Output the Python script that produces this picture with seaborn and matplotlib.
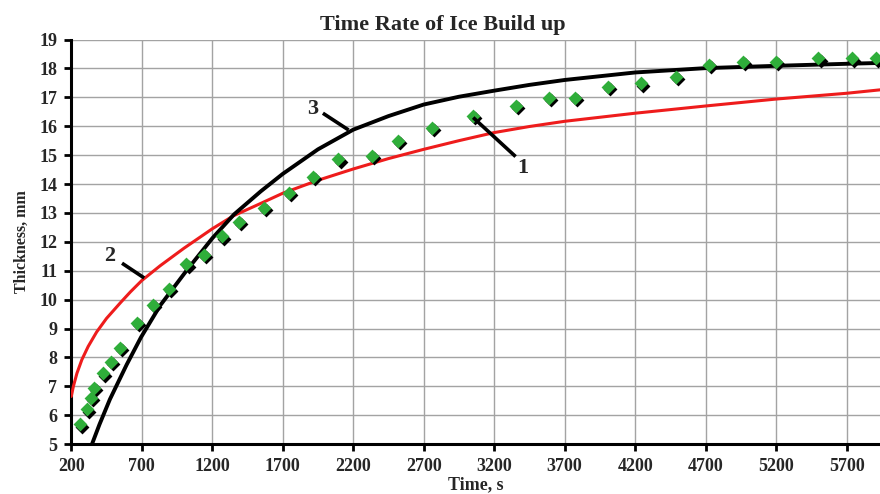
import numpy as np
import pandas as pd
import matplotlib
matplotlib.use("Agg")
import matplotlib.pyplot as plt
import matplotlib.transforms as mtransforms
import seaborn as sns

# experimental points (1)
time_exp = [259, 311, 340, 358, 422, 481, 543, 666, 779, 890, 1016, 1143, 1266, 1387,
            1564, 1741, 1915, 2095, 2335, 2515, 2760, 3050, 3355, 3590, 3775, 4005,
            4240, 4490, 4725, 4965, 5200, 5500, 5740, 5910]
thick_exp = [5.68, 6.2, 6.59, 6.95, 7.45, 7.85, 8.34, 9.19, 9.83, 10.37, 11.22, 11.55,
             12.19, 12.68, 13.17, 13.7, 14.25, 14.85, 14.97, 15.48, 15.95, 16.35, 16.7,
             16.98, 16.98, 17.35, 17.48, 17.72, 18.12, 18.23, 18.23, 18.35, 18.35, 18.35]

# model curve (2) - red
time_2 = [200, 215, 240, 275, 320, 380, 450, 550, 620, 700, 830, 1000, 1200, 1350, 1540,
          1700, 1950, 2200, 2450, 2700, 2950, 3200, 3450, 3700, 4200, 4700, 5200, 5700,
          5940]
thick_2 = [6.65, 7.0, 7.45, 7.92, 8.38, 8.88, 9.35, 9.9, 10.27, 10.66, 11.17, 11.78,
           12.45, 12.9, 13.32, 13.68, 14.13, 14.52, 14.88, 15.2, 15.5, 15.78, 15.99,
           16.17, 16.45, 16.7, 16.94, 17.14, 17.26]

# model curve (3) - black
time_3 = [347, 400, 474, 593, 695, 831, 1017, 1200, 1355, 1545, 1700, 1950, 2200, 2450,
          2700, 2950, 3200, 3450, 3700, 4200, 4700, 5200, 5700, 5940]
thick_3 = [5.0, 5.68, 6.55, 7.75, 8.7, 9.8, 11.0, 12.12, 12.95, 13.75, 14.35, 15.2,
           15.88, 16.35, 16.75, 17.02, 17.23, 17.43, 17.6, 17.86, 18.01, 18.09, 18.16,
           18.19]

# curve labels: (text, text pos, leader start, leader end)
labels = ["1", "2", "3"]
label_xy = [(3405, 14.55), (470, 11.5), (1915, 16.6)]
leader_from = [(3051, 16.3), (560, 11.26), (1985, 16.45)]
leader_to = [(3352, 14.95), (717, 10.75), (2167, 15.87)]

x_ticks = list(range(200, 5701, 500))
y_ticks = list(range(5, 20))

sns.set_theme(style="whitegrid")
plt.rcParams['font.family'] = ['Liberation Serif', 'DejaVu Serif']
plt.rcParams['font.weight'] = 'bold'

fig = plt.figure(figsize=(8.8, 4.94), dpi=100)
ax = fig.add_axes([0.081, 0.101, 0.919, 0.819])
ax.set_facecolor("white")

df_exp = pd.DataFrame({"t": time_exp, "h": thick_exp})
df2 = pd.DataFrame({"t": time_2, "h": thick_2})
df3 = pd.DataFrame({"t": time_3, "h": thick_3})

sns.lineplot(data=df2, x="t", y="h", ax=ax, color="#ee1c1c", linewidth=2.2,
             sort=False, estimator=None, zorder=3)
sns.lineplot(data=df3, x="t", y="h", ax=ax, color="black", linewidth=2.8,
             sort=False, estimator=None, zorder=3)

shadow = mtransforms.offset_copy(ax.transData, fig=fig, x=2.2, y=-2.2, units='dots')
sns.scatterplot(data=df_exp, x="t", y="h", ax=ax, marker="D", s=50, color="black",
                linewidth=0, transform=shadow, zorder=4)
sns.scatterplot(data=df_exp, x="t", y="h", ax=ax, marker="D", s=50, color="#2fae3a",
                linewidth=0, zorder=5)

for lab, txy, p0, p1 in zip(labels, label_xy, leader_from, leader_to):
    ax.plot([p0[0], p1[0]], [p0[1], p1[1]], color="black", linewidth=2.6,
            solid_capstyle="butt", zorder=6)
    ax.text(txy[0], txy[1], lab, fontsize=16, fontweight="bold", ha="center",
            va="center", zorder=6)

ax.set_xlim(200, 5937)
ax.set_ylim(5, 19)
ax.set_xticks(x_ticks)
ax.set_yticks(y_ticks)
ax.grid(True, color="#a3a3a3", linewidth=1.0)
ax.tick_params(axis="both", which="major", labelsize=13, length=5, width=2,
               color="black", direction="out", left=True, bottom=True)
ax.tick_params(axis="x", pad=5)
ax.tick_params(axis="y", pad=5)
for lbl in ax.get_xticklabels() + ax.get_yticklabels():
    lbl.set_fontweight("bold")

for side in ["top", "right"]:
    ax.spines[side].set_visible(False)
for side in ["left", "bottom"]:
    ax.spines[side].set_color("black")
    ax.spines[side].set_linewidth(2.2)

ax.set_xlabel("Time, s", fontsize=13, fontweight="bold", labelpad=1)
ax.set_ylabel("Thickness, mm", fontsize=11.5, fontweight="bold", labelpad=7)
ax.set_title("Time Rate of Ice Build up", fontsize=16, fontweight="bold", pad=7,
             x=0.459)

fig.savefig("out.png", dpi=100)
